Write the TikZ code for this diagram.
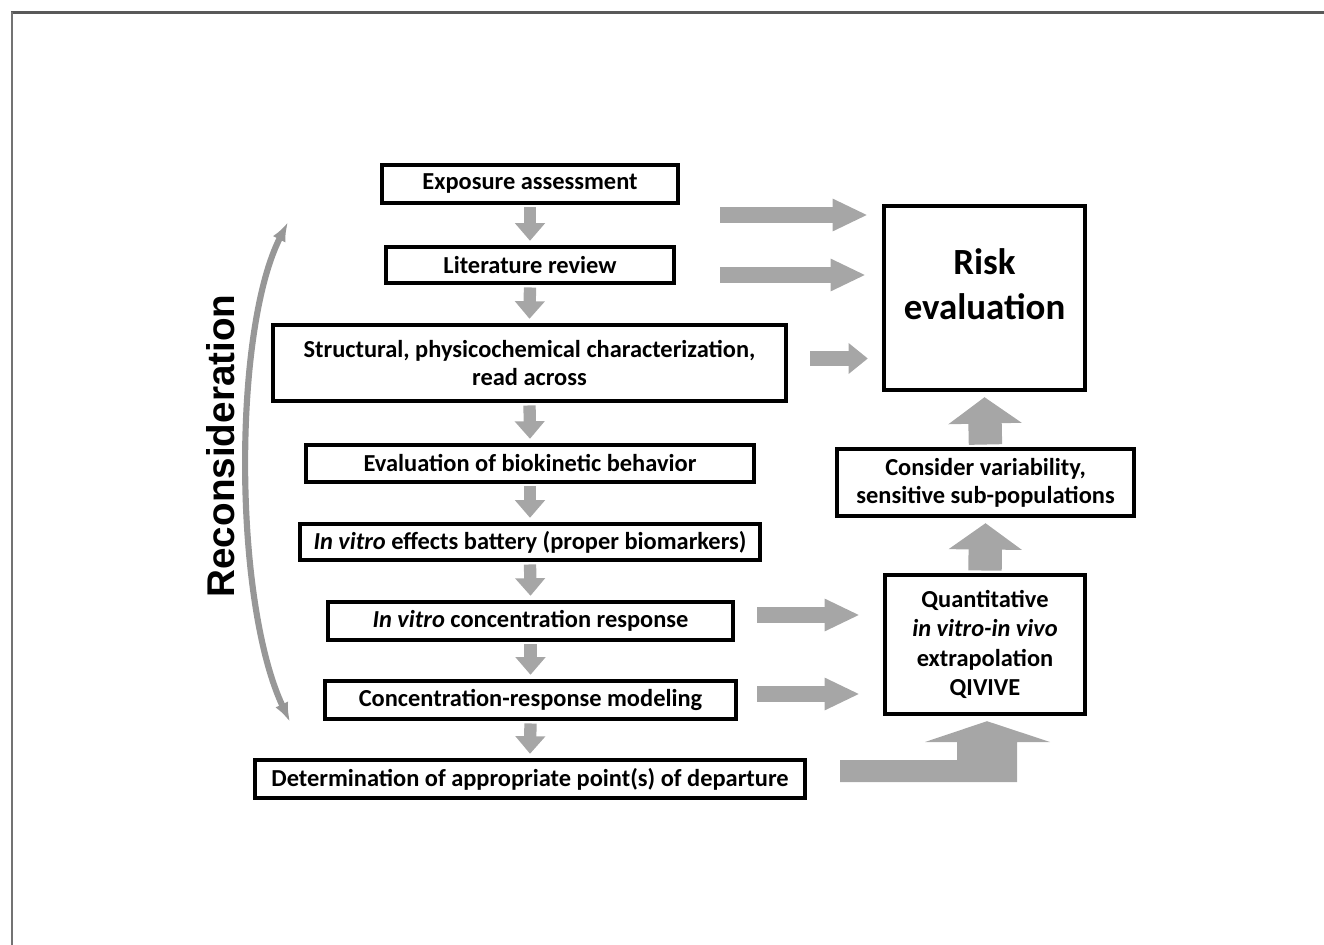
\documentclass[tikz,border=0pt]{standalone}
\usepackage{fontspec}
\setmainfont{Carlito}
\newfontfamily\recfont{Liberation Sans}
\usetikzlibrary{arrows.meta,calc}
\definecolor{agray}{HTML}{A6A6A6}
\definecolor{rgray}{HTML}{979797}
\begin{document}
\begin{tikzpicture}[x=0.02cm,y=-0.02cm,
  box/.style={draw=black,line width=2.5pt,fill=white,inner sep=0pt,align=center,
    font=\fontsize{13.9}{16}\selectfont\bfseries},
  downarr/.style={draw=agray,line width=7pt,-{Triangle[width=16.5pt,length=10pt]}},
  rightarr/.style={draw=agray,line width=9pt,-{Triangle[width=17pt,length=20pt]}},
  shortarr/.style={draw=agray,line width=9pt,-{Triangle[width=17pt,length=11pt]}},
  uparr/.style={draw=agray,line width=19pt,-{Triangle[width=41pt,length=15pt]}},
  recarr/.style={draw=rgray,line width=3.5pt,{Latex[length=11pt,width=8pt]}-{Latex[length=11pt,width=8pt]}},
]
\useasboundingbox (0,0) rectangle (1324,945);
% frame
\draw[black!65,line width=1.2pt] (11,12.5) -- (1324,12.5);
\draw[black!55,line width=1.4pt] (12,12) -- (12,945);

% left column
\node[box,minimum width=5.92cm,minimum height=0.76cm] (E) at (530,184) {Exposure assessment};
\node[box,minimum width=5.76cm,minimum height=0.72cm] (L) at (530,265) {Literature review};
\node[box,minimum width=10.26cm,minimum height=1.52cm] (S) at (529.5,363) {Structural, physicochemical characterization,\\read across};
\node[box,minimum width=8.96cm,minimum height=0.74cm] (B) at (530,463.5) {Evaluation of biokinetic behavior};
\node[box,minimum width=9.20cm,minimum height=0.72cm] (V) at (530,542) {\textit{In vitro} effects battery (proper biomarkers)};
\node[box,minimum width=8.10cm,minimum height=0.76cm] (C) at (530.5,621) {\textit{In vitro} concentration response};
\node[box,minimum width=8.22cm,minimum height=0.76cm] (M) at (530.5,700) {Concentration-response modeling};
\node[box,minimum width=11.00cm,minimum height=0.76cm] (D) at (530,779) {Determination of appropriate point(s) of departure};

% right column
\node[box,minimum width=4.02cm,minimum height=3.68cm] (R) at (984.5,298) {};
\node[font=\fontsize{21}{25.5}\selectfont\bfseries,align=center,inner sep=0pt] (Rt) at (984.5,284) {Risk\\evaluation};
\node[box,minimum width=5.94cm,minimum height=1.34cm] (CV) at (985.5,482.5) {Consider variability,\\sensitive sub-populations};
\node[box,minimum width=4.00cm,minimum height=2.78cm,font=\fontsize{13.9}{16.7}\selectfont\bfseries] (Q) at (985,644.5) {Quantitative\\\textit{in vitro-in vivo}\\extrapolation\\QIVIVE};

% down arrows
\draw[downarr,shorten <=1.3pt] (E.south) -- ($(L.north)+(0,-4)$);
\draw[downarr,shorten <=1.3pt] (L.south) -- ($(S.north)+(0,-4)$);
\draw[downarr,shorten <=1.3pt] (S.south) -- ($(B.north)+(0,-4)$);
\draw[downarr,shorten <=1.3pt] (B.south) -- ($(V.north)+(0,-4)$);
\draw[downarr,shorten <=1.3pt] (V.south) -- ($(C.north)+(0,-4)$);
\draw[downarr,shorten <=1.3pt] (C.south) -- ($(M.north)+(0,-4)$);
\draw[downarr,shorten <=1.3pt] (M.south) -- ($(D.north)+(0,-4)$);

% right arrows
\coordinate (a1) at (720,215);
\coordinate (a2) at (720,275);
\coordinate (a3) at (810,358.5);
\coordinate (a6) at (757,615);
\coordinate (a7) at (757,694);
\draw[rightarr] (a1) -- ($(a1 -| R.west)+(-14,0)$);
\draw[rightarr] (a2) -- ($(a2 -| R.west)+(-16,0)$);
\draw[shortarr] (a3) -- ($(a3 -| R.west)+(-14,0)$);
\draw[rightarr] (a6) -- ($(a6 -| Q.west)+(-23,0)$);
\draw[rightarr] (a7) -- ($(a7 -| Q.west)+(-23,0)$);

% up arrows
\draw[uparr,shorten <=1.3pt] (CV.north) -- ($(R.south)+(0,5)$);
\draw[uparr,shorten <=1.3pt] (Q.north) -- ($(CV.south)+(0,5)$);

% L-shaped arrow from D to Q
\coordinate (ls) at (840,760);
\fill[agray] (ls) -- (957,760) -- (957,742) -- (925,742) -- ($(Q.south)+(2,5)$) -- (1050,742)
  -- (1017,742) -- (1017,782) -- (840,782) -- cycle;

% reconsideration
\coordinate (rtop) at (288,222);
\coordinate (rbot) at (290,722);
\draw[recarr] (rtop) .. controls (233,330) and (233,600) .. (rbot);
\node[rotate=90,font=\recfont\bfseries\fontsize{22}{26}\selectfont,inner sep=0pt] (rec) at (221,446) {Reconsideration};
\end{tikzpicture}
\end{document}
